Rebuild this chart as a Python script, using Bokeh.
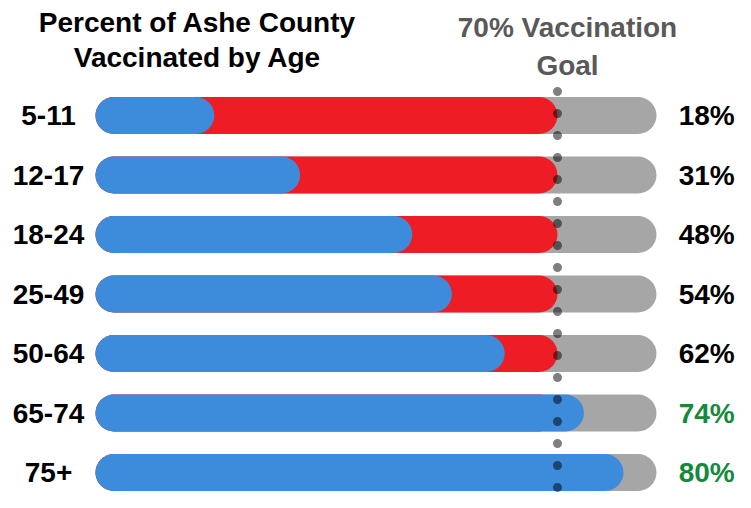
from bokeh.plotting import figure
from bokeh.models import ColumnDataSource, Range1d, Label
from bokeh.core.properties import value
from bokeh.embed import file_html
from bokeh.resources import INLINE

# ---- data ----
ages = ["5-11", "12-17", "18-24", "25-49", "50-64", "65-74", "75+"]
pct_vaccinated = [18, 31, 48, 54, 62, 74, 80]
goal = 70
track_max = 85
title_lines = ["Percent of Ashe County", "Vaccinated by Age"]
goal_lines = ["70% Vaccination", "Goal"]

# ---- styles ----
FONT = "Liberation Sans"
BLUE = "#3d8bdb"
RED = "#ee1c25"
GREY = "#a6a6a6"
GREEN = "#138a3c"
GOAL_TXT = "#595959"
FS = "28px"

W, H = 735, 492
X0, X1 = -14.394, 96.97
Y_BOTTOM, Y_TOP = 6.336, -1.933
BAR_PX = 37
px_per_unit = W / (X1 - X0)
r = (BAR_PX / 2) / px_per_unit

n = len(ages)
rows = list(range(n))
src = ColumnDataSource(dict(
    y=rows,
    start=[r] * n,
    track=[track_max - r] * n,
    goal_end=[goal - r] * n,
    val_end=[v - r for v in pct_vaccinated],
    age=ages,
    age_x=[-7.12] * n,
    pct_x=[92.6] * n,
    pct_txt=[f"{v}%" for v in pct_vaccinated],
    pct_col=[GREEN if v >= goal else "black" for v in pct_vaccinated],
))

p = figure(width=W, height=H, x_range=Range1d(X0, X1),
           y_range=Range1d(Y_BOTTOM, Y_TOP),
           x_axis_type=None, y_axis_type=None,
           toolbar_location=None, output_backend="svg", min_border=0)
p.outline_line_color = None
p.background_fill_color = "white"

p.segment(x0="start", y0="y", x1="track", y1="y", source=src,
          line_width=BAR_PX, line_color=GREY, line_cap="round")
p.segment(x0="start", y0="y", x1="goal_end", y1="y", source=src,
          line_width=BAR_PX, line_color=RED, line_cap="round")
p.segment(x0="start", y0="y", x1="val_end", y1="y", source=src,
          line_width=BAR_PX, line_color=BLUE, line_cap="round")

# dotted goal line
p.segment(x0=[goal], y0=[-0.403], x1=[goal], y1=[6.6],
          line_width=9, line_color="black", line_alpha=0.5,
          line_dash="0 22", line_cap="round")

p.text(x="age_x", y="y", text="age", source=src,
       text_align="center", text_baseline="middle",
       text_font=value(FONT), text_font_style="bold",
       text_font_size=FS, text_color="black")
p.text(x="pct_x", y="y", text="pct_txt", source=src,
       text_align="center", text_baseline="middle",
       text_font=value(FONT), text_font_style="bold",
       text_font_size=FS, text_color="pct_col")

for txt, yy in zip(title_lines, [-1.568, -0.980]):
    p.add_layout(Label(x=15.45, y=yy, text=txt, text_align="center",
                       text_baseline="alphabetic", text_font=FONT,
                       text_font_style="bold", text_font_size=FS,
                       text_color="black"))
for txt, yy in zip(goal_lines, [-1.474, -0.840]):
    p.add_layout(Label(x=goal, y=yy, x_offset=10, text=txt, text_align="center",
                       text_baseline="alphabetic", text_font=FONT,
                       text_font_style="bold", text_font_size=FS,
                       text_color=GOAL_TXT))

open("out.html", "w").write(file_html(p, INLINE))
